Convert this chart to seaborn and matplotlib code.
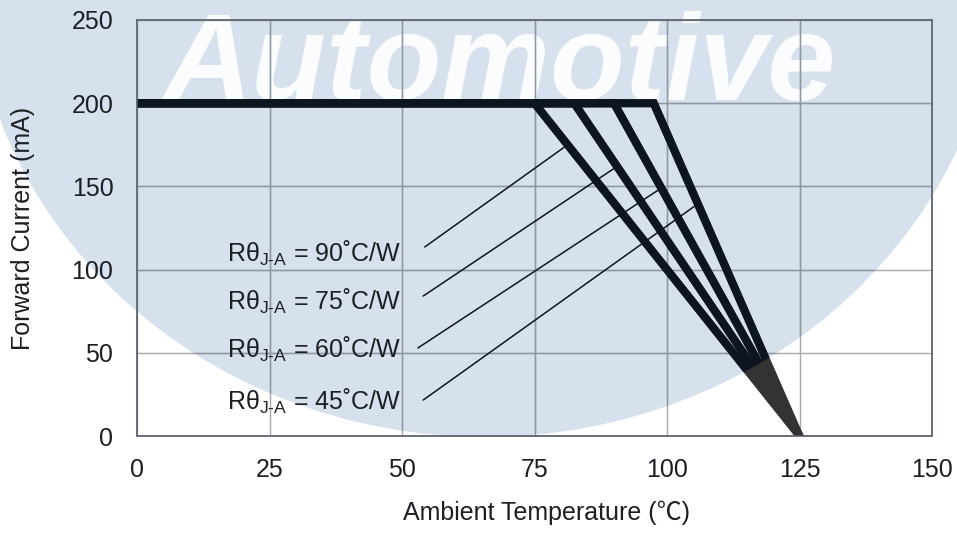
import pandas as pd
import matplotlib
matplotlib.use('Agg')
import matplotlib.pyplot as plt
from matplotlib.patches import Ellipse, Rectangle
import seaborn as sns

# Curvas de reducción de corriente
theta_ja = [90, 75, 60, 45]              # °C/W
knee_temp = [75, 82.5, 90, 97.5]         # °C donde empieza la reducción
max_current = 200                         # mA
zero_temp = 125                           # °C con corriente 0

# Etiquetas y líneas guía
label_x = [33.5, 33.5, 33.5, 33.5]
label_y = [110, 81, 52, 20.5]
leader_start_x = [54.3, 54.0, 53.0, 54.0]
leader_start_y = [113.6, 84.1, 52.9, 21.6]
leader_end_current = [175, 162, 149, 139.5]

x_ticks = [0, 25, 50, 75, 100, 125, 150]
y_ticks = [0, 50, 100, 150, 200, 250]

# Colores
bg_blue = '#d7e1ed'
line_out, line_in = '#333333', '#0d1520'
grid_out, grid_in = '#a8a8a8', '#8e98a5'
spine_out, spine_in = '#878787', '#5b6470'
text_col = '#1c1f24'

# Tabla larga para seaborn
rows = []
for r, k in zip(theta_ja, knee_temp):
    for t, c in [(0, max_current), (k, max_current), (zero_temp, 0)]:
        rows.append({'temp': t, 'current': c, 'rth': f'{r}'})
df = pd.DataFrame(rows)

sns.set_theme(style='whitegrid')
plt.rcParams['font.family'] = ['Liberation Sans', 'Noto Sans CJK SC', 'DejaVu Sans']
plt.rcParams['mathtext.fontset'] = 'custom'
plt.rcParams['mathtext.rm'] = 'Liberation Sans'
plt.rcParams['mathtext.it'] = 'Liberation Sans'

fig = plt.figure(figsize=(9.57, 5.33), dpi=100)
fig.patch.set_facecolor('white')
ax = fig.add_axes([137 / 957, 1 - 436 / 533, 795 / 957, 416 / 533])
ax.set_facecolor('none')

# Fondo azul (marca de agua) y su copia para recortes
ell_params = dict(xy=(485 / 957, 1 + 41 / 533), width=1030 / 957, height=956 / 533)
fig.add_artist(Ellipse(**ell_params, transform=fig.transFigure,
                       facecolor=bg_blue, edgecolor='none', zorder=-10))
clip_ell = Ellipse(**ell_params, transform=fig.transFigure)

fig.text(500 / 957, 1 - 100 / 533, 'Automotive', fontsize=88, fontweight='bold',
         fontstyle='italic', family='Liberation Sans', color='white', alpha=0.92,
         ha='center', va='baseline', zorder=-5)

# Rejilla
ax.set_axisbelow(True)
ax.grid(True, color=grid_out, lw=1.0)
for t in x_ticks[1:-1]:
    ax.axvline(t, color=grid_in, lw=1.0, zorder=0.6).set_clip_path(clip_ell)
for t in y_ticks[1:-1]:
    ax.axhline(t, color=grid_in, lw=1.0, zorder=0.6).set_clip_path(clip_ell)

# Curvas
sns.lineplot(data=df, x='temp', y='current', units='rth', estimator=None,
             sort=False, color=line_out, lw=5.8, legend=False, ax=ax)
n0 = len(ax.lines)
sns.lineplot(data=df, x='temp', y='current', units='rth', estimator=None,
             sort=False, color=line_in, lw=5.8, legend=False, ax=ax)
for ln in ax.lines[n0:]:
    ln.set_clip_path(clip_ell)
for ln in ax.lines[-8:]:
    ln.set_solid_joinstyle('miter')
    ln.set_zorder(3)

# Etiquetas con líneas guía
for r, k, lx, ly, sx, sy, ec in zip(theta_ja, knee_temp, label_x, label_y,
                                     leader_start_x, leader_start_y, leader_end_current):
    ax.text(lx, ly, 'Rθ' + r'$_{\text{J-A}}$' + f' = {r}' + '˚C/W', fontsize=18,
            color=text_col, ha='center', va='center', zorder=4)
    ex = zero_temp - (zero_temp - k) * ec / max_current
    ax.plot([sx, ex], [sy, ec], color=line_in, lw=1.1, zorder=2)

ax.set_xlim(0, 150)
ax.set_ylim(0, 250)
ax.set_xticks(x_ticks)
ax.set_yticks(y_ticks)
ax.tick_params(length=0, labelsize=18, labelcolor=text_col)
ax.tick_params(axis='y', pad=17)
ax.tick_params(axis='x', pad=16)
ax.set_xlabel('Ambient Temperature (℃)', fontsize=18, color=text_col)
ax.set_ylabel('Forward Current (mA)', fontsize=18, color=text_col, labelpad=26)
ax.xaxis.set_label_coords(0.515, -0.155)

for s in ax.spines.values():
    s.set_visible(True)
    s.set_color(spine_out)
    s.set_linewidth(1.1)
frame = Rectangle((0, 0), 1, 1, transform=ax.transAxes, fill=False,
                  edgecolor=spine_in, lw=1.1, zorder=5, clip_on=False)
ax.add_patch(frame)
frame.set_clip_path(clip_ell)

fig.savefig('out.png', dpi=100)
